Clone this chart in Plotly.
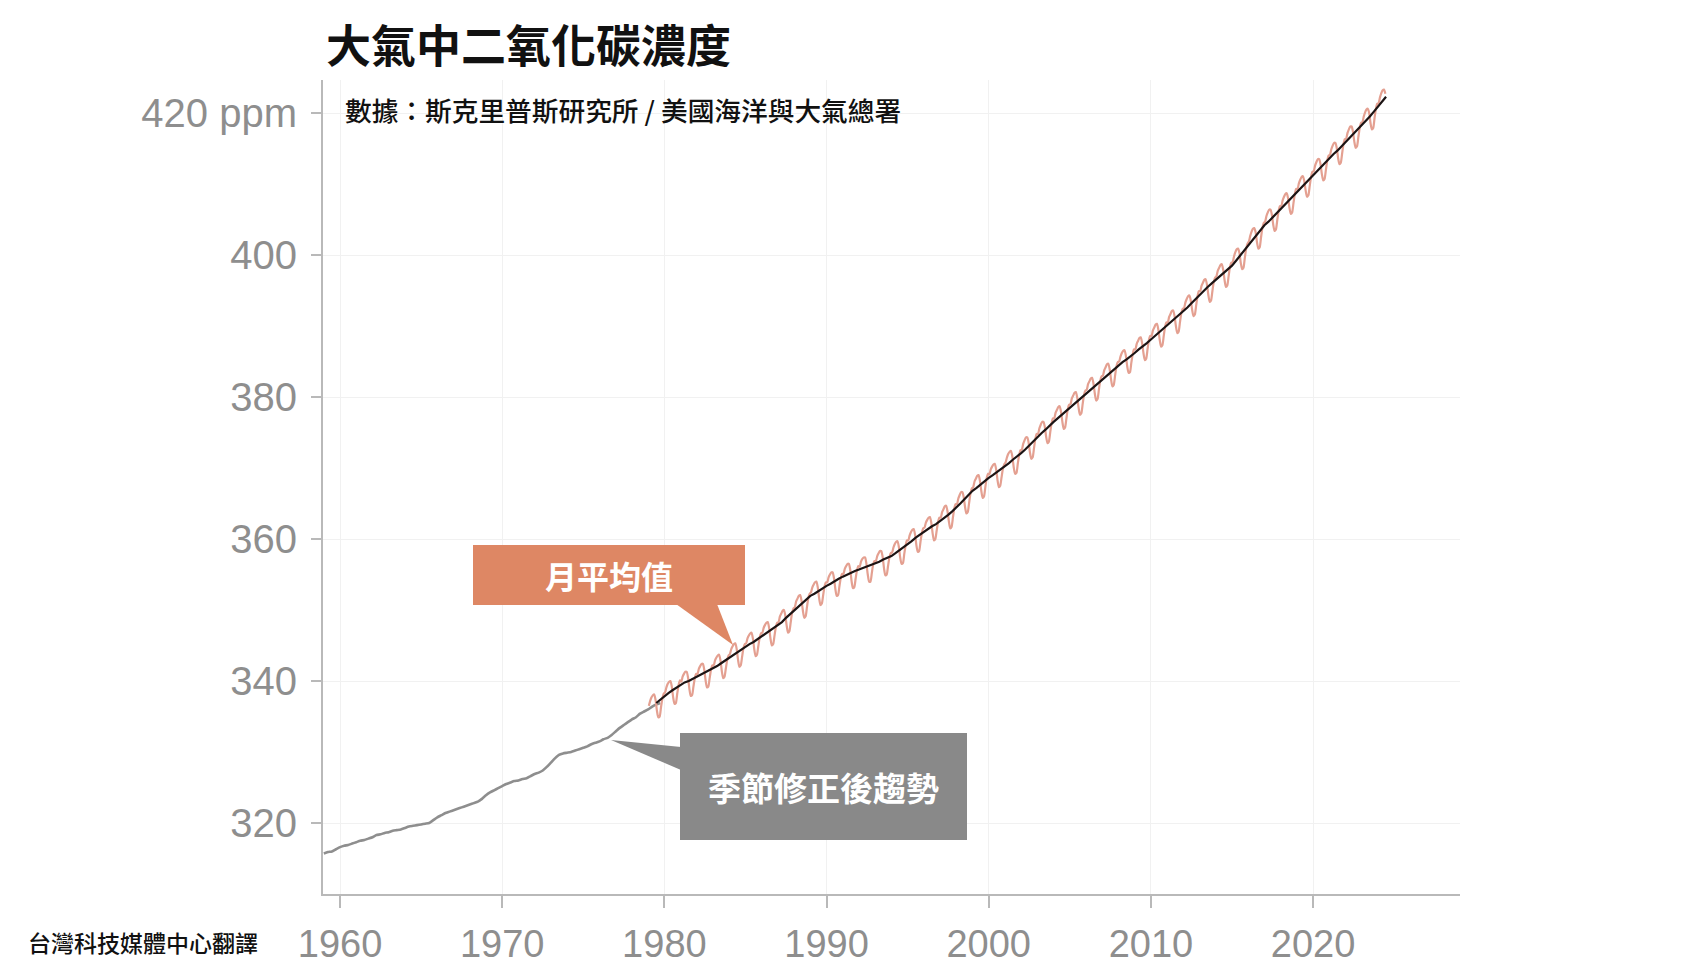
import plotly.graph_objects as go

# ---------------- data ----------------
# Seasonally adjusted trend (grey), quarterly, 1959.00 .. 1979.75
gray_start = 1959.0
gray_ppm = [
    315.7, 315.9, 316.0, 316.3,
    316.6, 316.8, 316.9, 317.1,
    317.3, 317.5, 317.6, 317.8,
    318.0, 318.3, 318.4, 318.6,
    318.7, 318.9, 319.0, 319.1,
    319.3, 319.5, 319.6, 319.7,
    319.8, 319.9, 320.0, 320.4,
    320.8, 321.1, 321.4, 321.6,
    321.8, 322.0, 322.2, 322.4,
    322.6, 322.8, 323.0, 323.4,
    323.9, 324.3, 324.6, 324.9,
    325.2, 325.5, 325.7, 325.9,
    326.0, 326.2, 326.3, 326.6,
    326.9, 327.1, 327.4, 327.9,
    328.5, 329.1, 329.6, 329.8,
    329.9, 330.0, 330.2, 330.4,
    330.6, 330.8, 331.1, 331.3,
    331.5, 331.8, 332.0, 332.4,
    332.9, 333.4, 333.8, 334.2,
    334.6, 334.9, 335.4, 335.7,
    336.0, 336.4, 336.7, 336.9,
]

# Monthly mean (salmon), Jan 1979 .. Jun 2024
monthly_start = 1979
monthly_ppm = [
    336.5, 337.2, 337.7, 338.0, 338.1, 337.3, 335.8, 334.9, 335.0, 336.3, 337.5, 338.2,  # 1979
    338.4, 339.1, 339.6, 339.9, 340.0, 339.2, 337.7, 336.8, 336.9, 338.2, 339.4, 340.1,  # 1980
    339.9, 340.6, 341.0, 341.3, 341.3, 340.5, 338.9, 337.9, 338.0, 339.2, 340.4, 341.0,  # 1981
    341.0, 341.7, 342.1, 342.4, 342.4, 341.6, 340.1, 339.1, 339.2, 340.4, 341.6, 342.2,  # 1982
    342.2, 342.9, 343.3, 343.6, 343.7, 342.9, 341.4, 340.4, 340.6, 341.8, 343.0, 343.6,  # 1983
    343.8, 344.5, 344.9, 345.2, 345.3, 344.5, 343.0, 342.0, 342.2, 343.4, 344.6, 345.2,  # 1984
    345.3, 346.0, 346.4, 346.7, 346.8, 346.0, 344.5, 343.5, 343.7, 344.9, 346.1, 346.7,  # 1985
    346.8, 347.5, 347.9, 348.2, 348.3, 347.5, 346.0, 345.0, 345.2, 346.4, 347.6, 348.2,  # 1986
    348.3, 349.1, 349.5, 349.9, 350.0, 349.2, 347.8, 346.8, 347.0, 348.3, 349.6, 350.2,  # 1987
    350.4, 351.2, 351.6, 352.0, 352.1, 351.3, 349.9, 348.9, 349.1, 350.4, 351.7, 352.3,  # 1988
    352.5, 353.2, 353.6, 353.9, 354.0, 353.2, 351.7, 350.7, 350.9, 352.1, 353.3, 353.9,  # 1989
    353.9, 354.6, 355.0, 355.3, 355.3, 354.5, 353.0, 352.0, 352.1, 353.3, 354.5, 355.1,  # 1990
    355.1, 355.8, 356.2, 356.5, 356.5, 355.7, 354.1, 353.1, 353.2, 354.4, 355.6, 356.2,  # 1991
    356.1, 356.8, 357.2, 357.4, 357.4, 356.5, 355.0, 354.0, 354.0, 355.2, 356.4, 356.9,  # 1992
    356.9, 357.6, 358.0, 358.3, 358.3, 357.5, 355.9, 354.9, 355.0, 356.2, 357.4, 358.0,  # 1993
    358.1, 358.8, 359.3, 359.6, 359.7, 358.9, 357.4, 356.5, 356.6, 357.9, 359.1, 359.8,  # 1994
    359.8, 360.5, 361.0, 361.3, 361.4, 360.6, 359.1, 358.2, 358.3, 359.6, 360.8, 361.5,  # 1995
    361.6, 362.3, 362.7, 363.0, 363.1, 362.3, 360.8, 359.8, 360.0, 361.2, 362.4, 363.0,  # 1996
    363.0, 363.8, 364.2, 364.6, 364.7, 363.9, 362.5, 361.5, 361.7, 363.0, 364.3, 364.9,  # 1997
    364.9, 365.7, 366.2, 366.6, 366.6, 365.9, 364.5, 363.6, 363.8, 365.1, 366.4, 367.1,  # 1998
    367.3, 368.1, 368.5, 368.9, 369.0, 368.2, 366.8, 365.8, 366.0, 367.3, 368.6, 369.2,  # 1999
    369.1, 369.8, 370.2, 370.5, 370.6, 369.8, 368.3, 367.3, 367.5, 368.7, 369.9, 370.5,  # 2000
    370.8, 371.5, 372.0, 372.3, 372.4, 371.6, 370.1, 369.2, 369.3, 370.6, 371.8, 372.5,  # 2001
    372.6, 373.4, 373.9, 374.3, 374.3, 373.6, 372.2, 371.3, 371.5, 372.8, 374.1, 374.8,  # 2002
    374.8, 375.6, 376.1, 376.5, 376.5, 375.8, 374.4, 373.5, 373.7, 375.0, 376.3, 377.0,  # 2003
    377.0, 377.8, 378.2, 378.6, 378.7, 377.9, 376.5, 375.5, 375.7, 377.0, 378.3, 378.9,  # 2004
    379.0, 379.8, 380.2, 380.6, 380.7, 379.9, 378.5, 377.5, 377.7, 379.0, 380.3, 380.9,  # 2005
    381.0, 381.8, 382.2, 382.6, 382.7, 381.9, 380.5, 379.5, 379.7, 381.0, 382.3, 382.9,  # 2006
    383.0, 383.8, 384.2, 384.6, 384.7, 383.9, 382.5, 381.5, 381.7, 383.0, 384.3, 384.9,  # 2007
    385.0, 385.7, 386.2, 386.5, 386.6, 385.8, 384.3, 383.4, 383.5, 384.8, 386.0, 386.7,  # 2008
    386.7, 387.5, 387.9, 388.3, 388.4, 387.6, 386.2, 385.2, 385.4, 386.7, 388.0, 388.6,  # 2009
    388.6, 389.4, 389.8, 390.2, 390.3, 389.5, 388.1, 387.1, 387.3, 388.6, 389.9, 390.5,  # 2010
    390.5, 391.3, 391.7, 392.1, 392.2, 391.4, 390.0, 389.0, 389.2, 390.5, 391.8, 392.4,  # 2011
    392.5, 393.3, 393.8, 394.2, 394.3, 393.6, 392.3, 391.4, 391.6, 392.9, 394.2, 394.9,  # 2012
    394.9, 395.7, 396.1, 396.5, 396.6, 395.8, 394.4, 393.4, 393.6, 394.9, 396.2, 396.8,  # 2013
    397.0, 397.8, 398.2, 398.6, 398.7, 397.9, 396.5, 395.5, 395.7, 397.0, 398.3, 398.9,  # 2014
    399.0, 399.8, 400.4, 400.8, 400.9, 400.3, 398.9, 398.0, 398.2, 399.6, 400.9, 401.6,  # 2015
    401.9, 402.7, 403.3, 403.7, 403.8, 403.2, 401.8, 400.9, 401.1, 402.5, 403.8, 404.5,  # 2016
    404.7, 405.5, 406.0, 406.4, 406.4, 405.7, 404.3, 403.4, 403.6, 404.9, 406.2, 406.9,  # 2017
    406.9, 407.7, 408.2, 408.6, 408.7, 408.0, 406.7, 405.8, 406.0, 407.3, 408.6, 409.3,  # 2018
    409.3, 410.1, 410.6, 411.0, 411.1, 410.4, 409.1, 408.2, 408.4, 409.7, 411.0, 411.7,  # 2019
    411.8, 412.6, 413.1, 413.5, 413.5, 412.8, 411.4, 410.5, 410.7, 412.0, 413.3, 414.0,  # 2020
    414.1, 414.9, 415.4, 415.8, 415.8, 415.1, 413.7, 412.8, 413.0, 414.3, 415.6, 416.3,  # 2021
    416.4, 417.2, 417.7, 418.1, 418.1, 417.4, 416.0, 415.1, 415.3, 416.6, 417.9, 418.6,  # 2022
    418.7, 419.5, 420.1, 420.5, 420.6, 420.0, 418.6, 417.7, 417.9, 419.3, 420.6, 421.3,  # 2023
    421.4, 422.2, 422.8, 423.2, 423.3, 422.7,                                            # 2024
]

# Trend of the monthly mean (black), quarterly, 1979.50 .. 2024.50
trend_start = 1979.5
trend_ppm = [
    336.9, 337.4,
    337.9, 338.3, 338.7, 339.1,
    339.5, 339.8, 340.0, 340.3,
    340.5, 340.8, 341.1, 341.4,
    341.7, 342.1, 342.5, 342.9,
    343.3, 343.7, 344.1, 344.4,
    344.8, 345.2, 345.5, 345.9,
    346.3, 346.6, 347.0, 347.4,
    347.8, 348.3, 348.9, 349.4,
    349.9, 350.4, 350.9, 351.5,
    352.0, 352.3, 352.7, 353.0,
    353.4, 353.7, 354.1, 354.4,
    354.7, 355.0, 355.2, 355.5,
    355.7, 355.9, 356.1, 356.3,
    356.5, 356.8, 357.1, 357.3,
    357.6, 358.0, 358.4, 358.8,
    359.3, 359.7, 360.2, 360.6,
    361.1, 361.4, 361.8, 362.1,
    362.5, 362.9, 363.4, 363.9,
    364.4, 365.0, 365.6, 366.2,
    366.8, 367.2, 367.7, 368.2,
    368.6, 369.0, 369.4, 369.8,
    370.3, 370.7, 371.2, 371.6,
    372.1, 372.6, 373.2, 373.8,
    374.3, 374.9, 375.4, 376.0,
    376.5, 377.0, 377.5, 378.0,
    378.5, 379.0, 379.5, 380.0,
    380.5, 381.0, 381.5, 382.0,
    382.5, 383.0, 383.5, 384.0,
    384.5, 384.9, 385.3, 385.7,
    386.2, 386.7, 387.1, 387.6,
    388.1, 388.6, 389.1, 389.5,
    390.0, 390.5, 391.0, 391.5,
    392.0, 392.6, 393.2, 393.8,
    394.4, 394.9, 395.5, 396.0,
    396.5, 397.0, 397.5, 398.0,
    398.5, 399.2, 399.9, 400.6,
    401.4, 402.1, 402.8, 403.5,
    404.2, 404.7, 405.3, 405.9,
    406.4, 407.0, 407.6, 408.2,
    408.8, 409.4, 410.0, 410.7,
    411.3, 411.9, 412.4, 413.0,
    413.6, 414.2, 414.7, 415.3,
    415.9, 416.5, 417.0, 417.6,
    418.2, 418.9, 419.5, 420.2,
    420.9, 421.6, 422.3,
]

x_tick_vals = [1960, 1970, 1980, 1990, 2000, 2010, 2020]
x_tick_text = ["1960", "1970", "1980", "1990", "2000", "2010", "2020"]
y_tick_vals = [320, 340, 360, 380, 400, 420]
y_tick_text = ["320", "340", "360", "380", "400", "420 ppm"]

title_text = "大氣中二氧化碳濃度"
subtitle_text = "數據：斯克里普斯研究所 / 美國海洋與大氣總署"
footer_text = "台灣科技媒體中心翻譯"
label_monthly = "月平均值"
label_trend = "季節修正後趨勢"

# ---------------- layout geometry (screen pixels) ----------------
W, H = 1681, 974          # browser window
OFF = 8                   # default page body margin
FW, FH = W - 2 * OFF, H - 2 * OFF   # figure size that fits without scrolling
L, R, T, B = 323, 1460, 80, 894     # plot area on screen
X0, X1 = 1958.95, 2029.06
Y0, Y1 = 310.0, 424.65


def dx(px):
    return X0 + (px - L) / (R - L) * (X1 - X0)


def dy(py):
    return Y0 + (B - py) / (B - T) * (Y1 - Y0)


def px_paper(px):
    return (px - L) / (R - L)


def py_paper(py):
    return (B - py) / (B - T)


gray_x = [gray_start + 0.25 * i for i in range(len(gray_ppm))]
monthly_x = [monthly_start + (i + 0.5) / 12 for i in range(len(monthly_ppm))]
trend_x = [trend_start + 0.25 * i for i in range(len(trend_ppm))]

fig = go.Figure()
fig.add_trace(go.Scatter(x=gray_x, y=gray_ppm, mode="lines",
                         line=dict(color="#8e8e8e", width=2.6, shape="spline", smoothing=0.5),
                         hoverinfo="skip"))
fig.add_trace(go.Scatter(x=monthly_x, y=monthly_ppm, mode="lines",
                         line=dict(color="#e4a091", width=2.2, shape="spline", smoothing=0.6),
                         hoverinfo="skip"))
fig.add_trace(go.Scatter(x=trend_x, y=trend_ppm, mode="lines",
                         line=dict(color="#1c1414", width=2.2), hoverinfo="skip"))

ORANGE = "#de8764"
GREYBOX = "#898989"


def rect(x0, y0, x1, y1, color):
    return dict(type="rect", xref="x", yref="y", x0=dx(x0), x1=dx(x1), y0=dy(y0), y1=dy(y1),
                fillcolor=color, line=dict(width=0), layer="above")


def tri(pts, color):
    path = "M " + " L ".join(f"{dx(a)},{dy(b)}" for a, b in pts) + " Z"
    return dict(type="path", xref="x", yref="y", path=path, fillcolor=color,
                line=dict(width=0), layer="above")


shapes = [
    rect(473, 545, 745, 605, ORANGE),
    tri([(676, 604), (717, 604), (733, 645)], ORANGE),
    rect(680, 733, 967, 840, GREYBOX),
    tri([(681, 747), (681, 770), (611, 740)], GREYBOX),
]

annotations = [
    dict(text=f"<b>{title_text}</b>", xref="paper", yref="paper",
         x=px_paper(324), y=py_paper(43), xanchor="left", yanchor="middle", showarrow=False,
         font=dict(family="Noto Sans CJK TC", size=45, color="#111111")),
    dict(text=subtitle_text, xref="paper", yref="paper",
         x=px_paper(343), y=py_paper(109), xanchor="left", yanchor="middle", showarrow=False,
         font=dict(family="Noto Sans CJK TC", size=26.7, color="#111111", weight=500)),
    dict(text=footer_text, xref="paper", yref="paper",
         x=px_paper(26), y=py_paper(942), xanchor="left", yanchor="middle", showarrow=False,
         font=dict(family="Noto Sans CJK TC", size=23, color="#111111", weight=500)),
    dict(text=f"<b>{label_monthly}</b>", xref="x", yref="y",
         x=dx(609), y=dy(575), xanchor="center", yanchor="middle", showarrow=False,
         font=dict(family="Noto Sans CJK TC", size=32, color="white")),
    dict(text=f"<b>{label_trend}</b>", xref="x", yref="y",
         x=dx(823), y=dy(787), xanchor="center", yanchor="middle", showarrow=False,
         font=dict(family="Noto Sans CJK TC", size=33, color="white")),
]

fig.update_layout(
    width=FW, height=FH,
    margin=dict(l=L - OFF, r=OFF + FW - R, t=T - OFF, b=OFF + FH - B, pad=0, autoexpand=False),
    paper_bgcolor="white", plot_bgcolor="white",
    showlegend=False,
    shapes=shapes, annotations=annotations,
)
fig.update_xaxes(
    range=[X0, X1], tickvals=x_tick_vals, ticktext=x_tick_text,
    showgrid=True, gridcolor="#f1f1f1", gridwidth=1, zeroline=False,
    showline=True, linecolor="#b9b9b9", linewidth=2,
    ticks="outside", ticklen=12, tickwidth=1.5, tickcolor="#b9b9b9",
    tickfont=dict(family="Liberation Sans", size=38, color="#8e8e8e"),
    ticklabelstandoff=3, automargin=False,
)
fig.update_yaxes(
    range=[Y0, Y1], tickvals=y_tick_vals, ticktext=y_tick_text,
    showgrid=True, gridcolor="#f1f1f1", gridwidth=1, zeroline=False,
    showline=True, linecolor="#b9b9b9", linewidth=2,
    ticks="outside", ticklen=10, tickwidth=1.5, tickcolor="#b9b9b9",
    tickfont=dict(family="Liberation Sans", size=40, color="#8e8e8e"),
    ticklabelstandoff=6, automargin=False,
)

fig.write_html("out.html")
